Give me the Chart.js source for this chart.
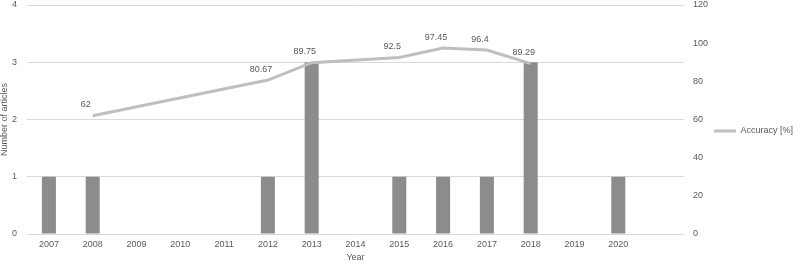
<!DOCTYPE html>
<html>
<head>
<meta charset="utf-8">
<script src="https://cdn.jsdelivr.net/npm/chart.js@4/dist/chart.umd.min.js"></script>
<style>
  html, body { margin: 0; padding: 0; background: #fff; }
  #wrap { width: 798px; height: 262px; overflow: hidden; }
</style>
</head>
<body>
<div id="wrap"><canvas id="chart" width="798" height="262"></canvas></div>
<script>
// Years on the x axis (last slot is empty in the original)
const years = ['2007', '2008', '2009', '2010', '2011', '2012', '2013', '2014', '2015', '2016', '2017', '2018', '2019', '2020', ''];
// Number of articles per year
const articles = [1, 1, null, null, null, 1, 3, null, 1, 1, 1, 3, null, 1, null];
// Accuracy [%] reported per year
const accuracy = [null, 62, null, null, null, 80.67, 89.75, null, 92.5, 97.45, 96.4, 89.29, null, null, null];

const leftTicks = { min: 0, max: 4, step: 1 };
const rightTicks = { min: 0, max: 120, step: 20 };

const textColor = '#595959';
const gridColor = '#d9d9d9';
const fontFamily = '"Liberation Sans", Arial, sans-serif';

Chart.defaults.font.family = fontFamily;
Chart.defaults.font.size = 9;
Chart.defaults.font.lineHeight = 1;
Chart.defaults.color = textColor;

// Draw the value labels above the accuracy line
const lineLabels = {
    id: 'lineLabels',
    afterDatasetsDraw(chart) {
        const ctx = chart.ctx;
        const meta = chart.getDatasetMeta(1);
        ctx.save();
        ctx.font = '9px ' + fontFamily;
        ctx.fillStyle = textColor;
        ctx.textAlign = 'center';
        ctx.textBaseline = 'middle';
        meta.data.forEach((pt, i) => {
            const v = accuracy[i];
            if (v === null) return;
            ctx.fillText(String(v), pt.x - 7, pt.y - 11);
        });
        ctx.restore();
    }
};

// Fix the axis box sizes so the plot area sits where the original has it
function fitBox(size) {
    return scale => {
        scale.paddingTop = 5;
        scale.paddingBottom = 0;
        scale.paddingLeft = 0;
        scale.paddingRight = 0;
        if (scale.isHorizontal()) scale.height = size;
        else scale.width = size;
    };
}

const ctx = document.getElementById('chart').getContext('2d');
new Chart(ctx, {
    data: {
        labels: years,
        datasets: [{
            type: 'bar',
            label: 'Number of articles',
            data: articles,
            backgroundColor: '#8c8c8c',
            barPercentage: 1,
            categoryPercentage: 0.32,
            yAxisID: 'y',
            order: 2
        }, {
            type: 'line',
            label: 'Accuracy [%]',
            data: accuracy,
            borderColor: '#bfbfbf',
            backgroundColor: '#bfbfbf',
            borderWidth: 3,
            pointRadius: 0,
            spanGaps: true,
            tension: 0,
            yAxisID: 'y1',
            order: 1
        }]
    },
    options: {
        responsive: false,
        animation: false,
        layout: { padding: { left: 0, right: -5, top: 0, bottom: 0 } },
        plugins: {
            tooltip: { enabled: false },
            legend: {
                position: 'right',
                labels: {
                    filter: item => item.datasetIndex === 1,
                    usePointStyle: true,
                    pointStyle: 'line',
                    pointStyleWidth: 22,
                    boxWidth: 22,
                    padding: 0,
                    color: textColor,
                    font: { size: 9 }
                }
            }
        },
        scales: {
            x: {
                grid: { display: false, drawTicks: false },
                border: { display: true, color: gridColor },
                ticks: { maxRotation: 0, autoSkip: false, padding: 6 },
                title: { display: true, text: 'Year', padding: { top: 0, bottom: 0 } },
                afterFit: fitBox(28)
            },
            y: {
                position: 'left',
                min: leftTicks.min,
                max: leftTicks.max,
                ticks: { stepSize: leftTicks.step, padding: 10 },
                grid: { color: gridColor, drawTicks: false },
                border: { display: false },
                title: { display: true, text: 'Number of articles', padding: 0 },
                afterFit: fitBox(27)
            },
            y1: {
                position: 'right',
                min: rightTicks.min,
                max: rightTicks.max,
                ticks: { stepSize: rightTicks.step, padding: 9 },
                grid: { display: false, drawTicks: false },
                border: { display: false },
                afterFit: fitBox(30)
            }
        }
    },
    plugins: [lineLabels]
});
</script>
</body>
</html>
